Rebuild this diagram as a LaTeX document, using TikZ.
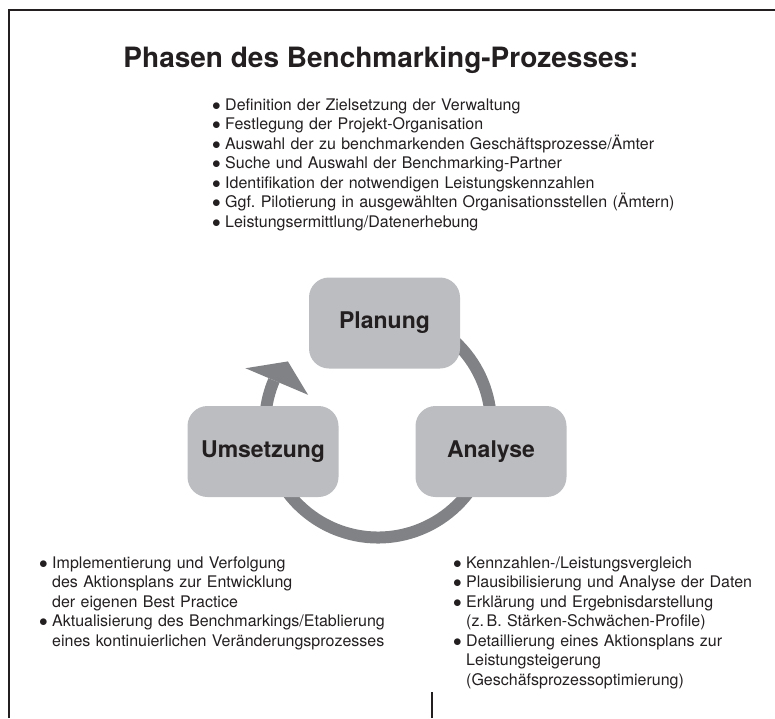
\documentclass[tikz,border=0pt]{standalone}
\usepackage{fontspec}
\setmainfont{TeX Gyre Heros}
\usetikzlibrary{calc}

\definecolor{boxgray}{HTML}{BCBDC0}
\definecolor{ringgray}{HTML}{808285}
\definecolor{inkblack}{HTML}{231F20}

\newcommand\bitem[1]{\hangindent=13pt\hangafter=1\noindent\makebox[13pt][l]{$\bullet$}#1\par}

\begin{document}
\begin{tikzpicture}[x=1pt, y=1pt,
  phase/.style={fill=boxgray, rounded corners=20pt, minimum width=151pt, minimum height=91pt,
    text=inkblack, font=\fontsize{23}{27}\selectfont\bfseries},
  ring/.style={draw=ringgray, line width=12pt},
  points/.style={anchor=base west, inner sep=0pt, text=inkblack,
    font=\fontsize{16}{19.5}\selectfont\frenchspacing\raggedright}]
  \useasboundingbox (0,0) rectangle (775,-718);
  \draw[inkblack, line width=1.2pt] (9,-718) -- (9,-10) -- (775,-10);
  \draw[inkblack, line width=1.2pt] (432,-718) -- (432,-692);

  \node[anchor=base, inner sep=0pt, text=inkblack, font=\fontsize{28}{32}\selectfont\bfseries]
    (title) at (381,-67) {Phasen des Benchmarking-Prozesses:};

  \node[points, text width=520pt] (planpoints) at (212,-110) {%
    \bitem{Definition der Zielsetzung der Verwaltung}
    \bitem{Festlegung der Projekt-Organisation}
    \bitem{Auswahl der zu benchmarkenden Geschäftsprozesse/Ämter}
    \bitem{Suche und Auswahl der Benchmarking-Partner}
    \bitem{Identifikation der notwendigen Leistungskennzahlen}
    \bitem{Ggf. Pilotierung in ausgewählten Organisationsstellen (Ämtern)}
    \bitem{Leistungsermittlung/Datenerhebung}};

  \coordinate (ctr) at (378,-424.5);
  \draw[ring] (ctr) ++(70:113) arc[start angle=70, end angle=-203, radius=113];
  \fill[ringgray] (ctr) ++(157:76) -- ($(ctr)+(145:110)$) -- ($(ctr)+(157:144)$) -- cycle;

  \node[phase] (plan) at (384.5,-323) {Planung};
  \node[phase] (umsetz) at (263,-451.5) {Umsetzung};
  \node[phase] (analyse) at (491,-451.5) {Analyse};

  \node[points, text width=400pt] (umsetzpoints) at (39,-568) {%
    \bitem{Implementierung und Verfolgung\newline des Aktionsplans zur Entwicklung\newline der eigenen Best Practice}
    \bitem{Aktualisierung des Benchmarkings/Etablierung\newline eines kontinuierlichen Veränderungsprozesses}};

  \node[points, text width=340pt] (analysepoints) at (453,-568) {%
    \bitem{Kennzahlen-/Leistungsvergleich}
    \bitem{Plausibilisierung und Analyse der Daten}
    \bitem{Erklärung und Ergebnisdarstellung\newline (z.\,B. Stärken-Schwächen-Profile)}
    \bitem{Detaillierung eines Aktionsplans zur\newline Leistungsteigerung\newline (Geschäfsprozessoptimierung)}};
\end{tikzpicture}
\end{document}
